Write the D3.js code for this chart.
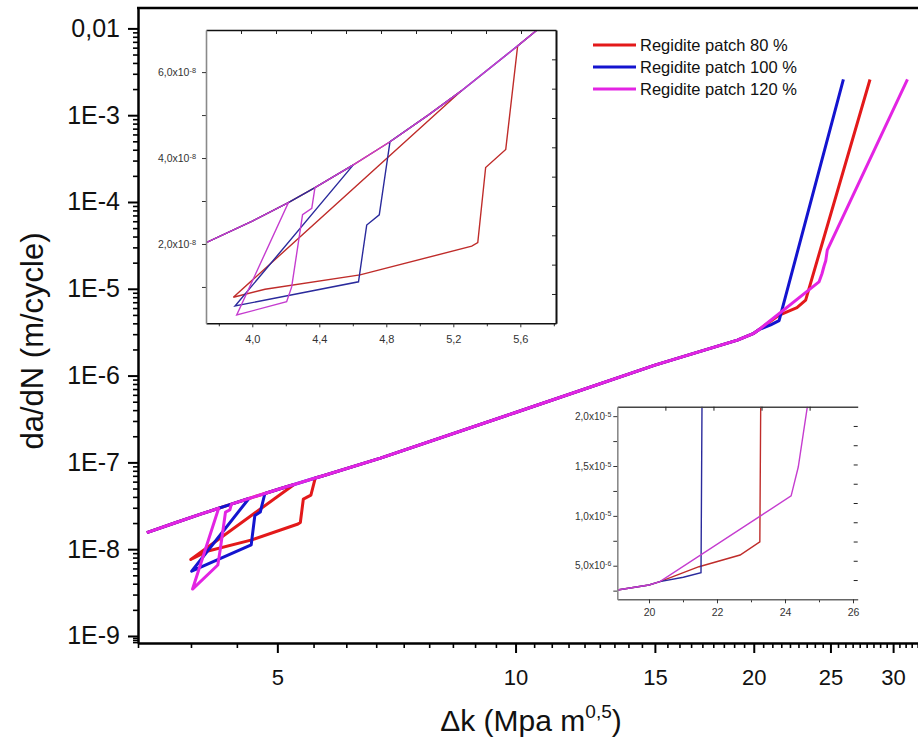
<!DOCTYPE html>
<html>
<head>
<meta charset="utf-8">
<script src="https://cdn.jsdelivr.net/npm/d3@7"></script>
<style>
  body { margin: 0; background: #fff; }
  svg { display: block; font-family: "Liberation Sans", Arial, sans-serif; }
</style>
</head>
<body>
<svg id="chart" width="918" height="749"></svg>
<script>
// values: ΔK (MPa m^0.5) and da/dN (m/cycle)
const dk80 = [3.42, 3.724, 4.0, 4.215, 4.374, 4.603, 4.822, 5.05, 5.25,
  3.887, 4.076, 4.643, 5.31, 5.346, 5.393, 5.513, 5.584,
  5.7, 6.75, 10, 15, 19.07, 20.0, 20.32, 21.47, 22.68, 23.26, 28.05]
const rate80 = [1.55e-8, 2.03e-8, 2.53e-8, 2.96e-8, 3.31e-8, 3.84e-8, 4.38e-8, 5.0e-8, 5.57e-8,
  7.6e-9, 9.45e-9, 1.28e-8, 1.95e-8, 2.03e-8, 3.78e-8, 4.2e-8, 6.61e-8,
  6.98e-8, 1.12e-7, 3.76e-7, 1.32e-6, 2.56e-6, 3.07e-6, 3.4e-6, 4.9e-6, 6.07e-6, 7.4e-6, 2.58e-3]

const dk100 = [3.42, 3.724, 4.0, 4.215, 4.374, 4.603,
  3.897, 4.634, 4.683, 4.758, 4.822,
  5.05, 5.25, 5.584, 5.7, 6.75, 10, 15, 19.07, 20.0, 20.32, 21.01, 21.53, 25.96]
const rate100 = [1.55e-8, 2.03e-8, 2.53e-8, 2.96e-8, 3.31e-8, 3.84e-8,
  5.57e-9, 1.12e-8, 2.44e-8, 2.68e-8, 4.38e-8,
  5.0e-8, 5.57e-8, 6.61e-8, 6.98e-8, 1.12e-7, 3.76e-7, 1.32e-6, 2.56e-6, 3.07e-6, 3.4e-6, 3.84e-6, 4.3e-6, 2.58e-3]

const dk120 = [3.42, 3.724, 4.0, 4.215,
  3.907, 4.205, 4.235, 4.3, 4.355, 4.374,
  4.603, 4.822, 5.05, 5.25, 5.584, 5.7, 6.75, 10, 15, 19.07, 20.0, 20.32,
  24.18, 24.39, 24.54, 24.66, 24.77, 31.28]
const rate120 = [1.55e-8, 2.03e-8, 2.53e-8, 2.96e-8,
  3.47e-9, 6.57e-9, 1.0e-8, 2.68e-8, 2.83e-8, 3.31e-8,
  3.84e-8, 4.38e-8, 5.0e-8, 5.57e-8, 6.61e-8, 6.98e-8, 1.12e-7, 3.76e-7, 1.32e-6, 2.56e-6, 3.07e-6, 3.4e-6,
  1.2e-5, 1.49e-5, 1.83e-5, 2.1e-5, 2.79e-5, 2.58e-3]

const seriesNames = ['Regidite patch 80 %', 'Regidite patch 100 %', 'Regidite patch 120 %']

const xTicks = [5, 10, 15, 20, 25, 30]
const yTicks = [1e-9, 1e-8, 1e-7, 1e-6, 1e-5, 1e-4, 1e-3, 1e-2]
const yTickLabels = ['1E-9', '1E-8', '1E-7', '1E-6', '1E-5', '1E-4', '1E-3', '0,01']

const inset1XTicks = [4.0, 4.4, 4.8, 5.2, 5.6]
const inset1XMinor = [3.8, 4.2, 4.6, 5.0, 5.4, 5.8]
const inset1YTicks = [2e-8, 4e-8, 6e-8]
const inset1YMinor = [1e-8, 3e-8, 5e-8]
const inset2XTicks = [20, 22, 24, 26]
const inset2XMinor = [21, 23, 25]
const inset2YTicks = [5e-6, 1e-5, 1.5e-5, 2e-5]
const inset2YMinor = [2.5e-6, 7.5e-6, 1.25e-5, 1.75e-5]

const series = [
  { name: seriesNames[0], dk: dk80, rate: rate80, color: '#e3191a', thin: '#bf2c2a' },
  { name: seriesNames[1], dk: dk100, rate: rate100, color: '#1414cf', thin: '#2a2a9c' },
  { name: seriesNames[2], dk: dk120, rate: rate120, color: '#e324e3', thin: '#c53dcf' }
]

const svg = d3.select('#chart')
const defs = svg.append('defs')

// ---------- main log-log plot ----------
const L = 138, T = 8, R = 930, B = 643
const x = d3.scaleLog().domain([10 / 3, 33.4]).range([L, R])
const y = d3.scaleLog().domain([8.3e-10, 0.01718]).range([B, T])

defs.append('clipPath').attr('id', 'clipMain')
  .append('rect').attr('x', L).attr('y', T).attr('width', R - L).attr('height', B - T)

const mainLine = d3.line().x(d => x(d[0])).y(d => y(d[1]))
svg.append('g').attr('clip-path', 'url(#clipMain)')
  .selectAll('path').data(series).join('path')
  .attr('d', s => mainLine(d3.zip(s.dk, s.rate)))
  .attr('fill', 'none')
  .attr('stroke', s => s.color)
  .attr('stroke-width', 3)
  .attr('stroke-linejoin', 'round')

// x axis, minor ticks every 5/9 like the original
const xMinor = d3.range(6, 61).filter(k => k % 9 !== 0).map(k => k * 5 / 9)
svg.append('g').attr('transform', `translate(0,${B})`)
  .call(d3.axisBottom(x).tickValues(xMinor).tickSize(5).tickSizeOuter(0).tickFormat(''))
  .call(g => g.select('.domain').remove())
  .call(g => g.selectAll('line').attr('stroke-width', 1.6))
svg.append('g').attr('transform', `translate(0,${B})`)
  .call(d3.axisBottom(x).tickValues(xTicks).tickSize(10).tickSizeOuter(0).tickPadding(16).tickFormat(d3.format('d')))
  .call(g => g.select('.domain').attr('stroke-width', 2.5))
  .call(g => g.selectAll('line').attr('stroke-width', 2))
  .call(g => g.selectAll('text').attr('font-size', 22).attr('fill', '#111').attr('font-family', null))

// y axis
const yMinor = []
yTicks.forEach(t => d3.range(2, 10).forEach(k => { if (t * k < 0.0171) yMinor.push(t * k) }))
yMinor.push(8.5e-10, 9e-10, 9.5e-10)
svg.append('g').attr('transform', `translate(${L},0)`)
  .call(d3.axisLeft(y).tickValues(yMinor).tickSize(5).tickSizeOuter(0).tickFormat(''))
  .call(g => g.select('.domain').remove())
  .call(g => g.selectAll('line').attr('stroke-width', 1.6))
svg.append('g').attr('transform', `translate(${L},0)`)
  .call(d3.axisLeft(y).tickValues(yTicks).tickSize(10).tickSizeOuter(0).tickPadding(8)
    .tickFormat((d, i) => yTickLabels[i]))
  .call(g => g.select('.domain').attr('stroke-width', 2.5))
  .call(g => g.selectAll('line').attr('stroke-width', 2))
  .call(g => g.selectAll('text').attr('font-size', 25).attr('fill', '#111').attr('font-family', null))

svg.append('line').attr('x1', L - 1).attr('x2', R).attr('y1', T).attr('y2', T)
  .attr('stroke', '#000').attr('stroke-width', 2.5)

// axis titles
const xt = svg.append('text').attr('x', 531).attr('y', 731)
  .attr('text-anchor', 'middle').attr('font-size', 30).attr('fill', '#111')
xt.append('tspan').text('Δk (Mpa m')
xt.append('tspan').attr('dy', -13).attr('font-size', 19).text('0,5')
xt.append('tspan').attr('dy', 13).text(')')

svg.append('text').attr('transform', 'translate(43,341) rotate(-90)')
  .attr('text-anchor', 'middle').attr('font-size', 31).attr('fill', '#111')
  .text('da/dN (m/cycle)')

// legend
const leg = svg.append('g').selectAll('g').data(series).join('g')
  .attr('transform', (d, i) => `translate(593,${45 + i * 22})`)
leg.append('line').attr('x1', 0).attr('x2', 43).attr('stroke', d => d.color).attr('stroke-width', 3)
leg.append('text').attr('x', 47).attr('y', 6).attr('font-size', 16.5).attr('fill', '#111').text(d => d.name)

// ---------- insets (linear scales) ----------
function sciLabel(sel) {
  sel.each(function (d) {
    const e = Math.floor(Math.log10(d) + 1e-9)
    const m = (d / Math.pow(10, e)).toFixed(1).replace('.', ',')
    const t = d3.select(this).text(null)
    t.append('tspan').text(m + 'x10')
    t.append('tspan').attr('dy', '-0.45em').attr('font-size', '0.7em').text(String(e))
  })
}

function drawInset(o) {
  const g = svg.append('g')
  const xs = d3.scaleLinear().domain(o.xDomain).range([o.x0, o.x1])
  const ys = d3.scaleLinear().domain(o.yDomain).range([o.y1, o.y0])
  g.append('rect').attr('x', o.x0).attr('y', o.y0).attr('width', o.x1 - o.x0).attr('height', o.y1 - o.y0)
    .attr('fill', '#fff')
  defs.append('clipPath').attr('id', o.id)
    .append('rect').attr('x', o.x0).attr('y', o.y0).attr('width', o.x1 - o.x0).attr('height', o.y1 - o.y0)
  const ln = d3.line().x(d => xs(d[0])).y(d => ys(d[1]))
  g.append('g').attr('clip-path', `url(#${o.id})`)
    .selectAll('path').data(series).join('path')
    .attr('d', s => ln(d3.zip(s.dk, s.rate)))
    .attr('fill', 'none').attr('stroke', s => s.thin).attr('stroke-width', 1.4)

  // top and right axes of a default 0..1 layer
  const u = d3.scaleLinear().domain([0, 1]).range([o.x0, o.x1])
  const v = d3.scaleLinear().domain([0, 1]).range([o.y1, o.y0])
  g.append('g').attr('transform', `translate(0,${o.y0})`)
    .call(d3.axisTop(u).tickValues(o.topTicks).tickSize(-4).tickSizeOuter(0).tickFormat(''))
    .call(a => a.select('.domain').attr('stroke', o.topColor).attr('stroke-width', 1.6))
    .call(a => a.selectAll('line').attr('stroke', '#222'))
  g.append('g').attr('transform', `translate(${o.x1},0)`)
    .call(d3.axisRight(v).tickValues(o.rightTicks).tickSize(-4).tickSizeOuter(0).tickFormat(''))
    .call(a => a.select('.domain').attr('stroke', o.rightColor).attr('stroke-width', 2))
    .call(a => a.selectAll('line').attr('stroke', '#222'))

  // bottom
  g.append('g').attr('transform', `translate(0,${o.y1})`)
    .call(d3.axisBottom(xs).tickValues(o.xMinor).tickSize(3).tickSizeOuter(0).tickFormat(''))
    .call(a => a.select('.domain').remove())
    .call(a => a.selectAll('line').attr('stroke', '#333'))
  g.append('g').attr('transform', `translate(0,${o.y1})`)
    .call(d3.axisBottom(xs).tickValues(o.xTicks).tickSize(4).tickSizeOuter(0).tickPadding(o.xPad).tickFormat(o.xFormat))
    .call(a => a.select('.domain').attr('stroke', o.bottomColor).attr('stroke-width', 1.6))
    .call(a => a.selectAll('line').attr('stroke', '#333'))
    .call(a => a.selectAll('text').attr('font-size', o.fs).attr('fill', '#333').attr('font-family', null))
  // left
  g.append('g').attr('transform', `translate(${o.x0},0)`)
    .call(d3.axisLeft(ys).tickValues(o.yMinor).tickSize(4).tickSizeOuter(0).tickFormat(''))
    .call(a => a.select('.domain').remove())
    .call(a => a.selectAll('line').attr('stroke', '#333'))
  g.append('g').attr('transform', `translate(${o.x0},0)`)
    .call(d3.axisLeft(ys).tickValues(o.yTicks).tickSize(4).tickSizeOuter(0).tickPadding(o.yPad))
    .call(a => a.select('.domain').attr('stroke', '#8a8a8a').attr('stroke-width', 1.6))
    .call(a => a.selectAll('line').attr('stroke', '#333'))
    .call(a => a.selectAll('text').attr('font-size', o.fs - 0.5).attr('fill', '#333').attr('font-family', null).call(sciLabel))
}

drawInset({
  id: 'clipInset1', x0: 206, x1: 556, y0: 30, y1: 323.3,
  xDomain: [3.7236, 5.813], yDomain: [1.54e-9, 6.98e-8],
  xTicks: inset1XTicks, xMinor: inset1XMinor, yTicks: inset1YTicks, yMinor: inset1YMinor,
  xFormat: d => d.toFixed(1).replace('.', ','), xPad: 8, yPad: 6, fs: 11,
  topTicks: d3.range(1, 10).map(k => k / 10), rightTicks: d3.range(1, 10).map(k => k / 10),
  topColor: '#111', rightColor: '#111', bottomColor: '#111'
})

drawInset({
  id: 'clipInset2', x0: 617.3, x1: 857.7, y0: 406.7, y1: 599.3,
  xDomain: [19.068, 26.138], yDomain: [1.63e-6, 2.095e-5],
  xTicks: inset2XTicks, xMinor: inset2XMinor, yTicks: inset2YTicks, yMinor: inset2YMinor,
  xFormat: d3.format('d'), xPad: 5, yPad: 2, fs: 10.5,
  topTicks: [0.2, 0.4, 0.6, 0.8], rightTicks: [0.1, 0.2, 0.3, 0.4, 0.5, 0.6, 0.7, 0.8, 0.9],
  topColor: '#444', rightColor: 'none', bottomColor: '#666'
})
</script>
</body>
</html>
